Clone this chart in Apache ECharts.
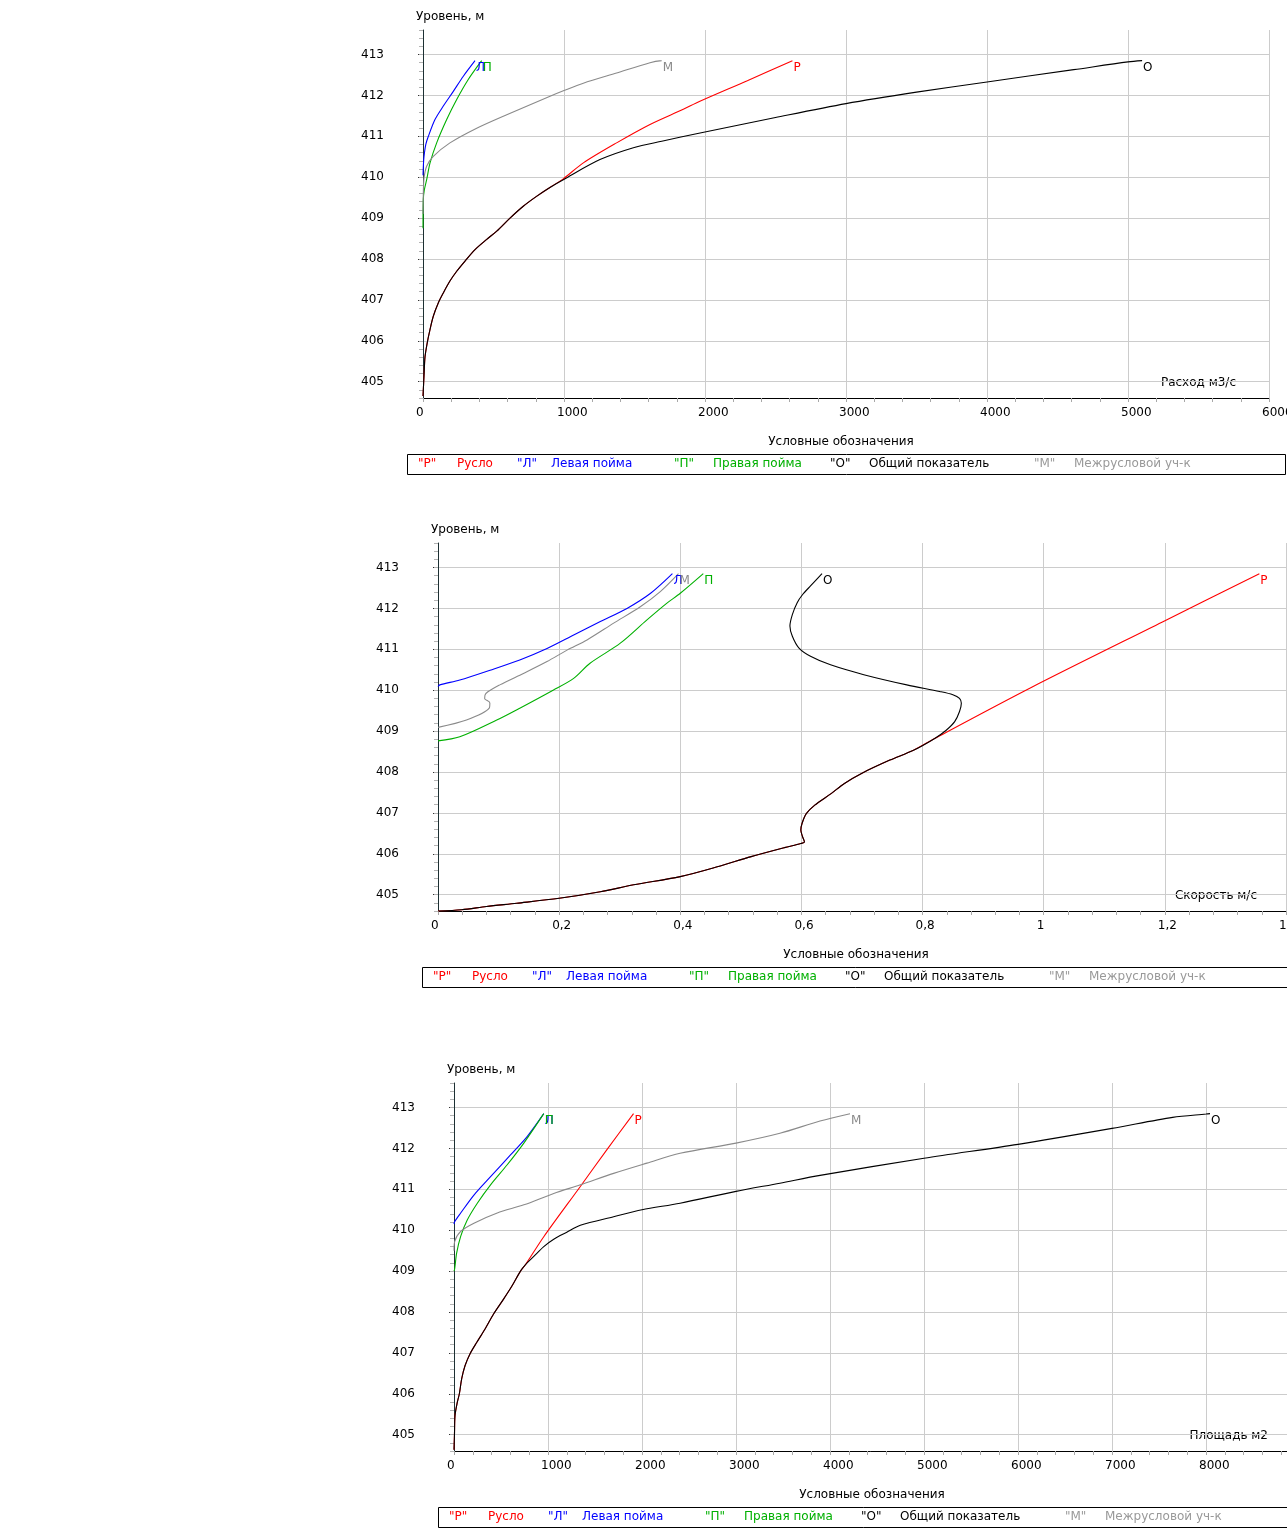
<!DOCTYPE html>
<html>
<head>
<meta charset="utf-8">
<script src="https://cdn.jsdelivr.net/npm/echarts@6/dist/echarts.min.js"></script>
<style>
  html, body { margin: 0; padding: 0; background: #fff; }
  #chart { width: 1287px; height: 1538px; }
</style>
</head>
<body>
<div id="chart"></div>
<script>
// ---- Section parts: codes, names ----
const partCodes = ['Р', 'Л', 'П', 'О', 'М'];
const partNames = ['Русло', 'Левая пойма', 'Правая пойма', 'Общий показатель', 'Межрусловой уч-к'];

// Level axis (m)
const levelMin = 404.6;
const levelMax = 413.6;
const levelTicks = [405, 406, 407, 408, 409, 410, 411, 412, 413];

// ---- Discharge, m3/s : [Q, level] ----
const qLower = [[0,404.65],[8,405.2],[14,405.6],[30,405.95],[50,406.28],[73,406.6],[109,406.93],[144,407.17],[191,407.46],[239,407.7],[298,407.95],[369,408.23],[452,408.48],[523,408.68],[617,409.0],[711,409.29],[800,409.52],[900,409.75]];
const qChannel = qLower.concat([[995,409.96],[1137,410.35],[1373,410.84],[1610,411.29],[1846,411.66],[1960,411.85],[2300,412.36],[2620,412.85]]);
const qTotal = qLower.concat([[995,409.94],[1255,410.43],[1492,410.72],[1693,410.88],[1965,411.08],[2500,411.46],[3000,411.8],[3500,412.08],[4000,412.33],[4615,412.63],[5000,412.82],[5100,412.85]]);
const qLeft = [[0,410.05],[3,410.3],[7,410.5],[20,410.8],[38,411.0],[85,411.41],[144,411.74],[215,412.1],[286,412.47],[369,412.85]];
const qRight = [[0,408.75],[2,409.45],[10,409.7],[26,409.94],[50,410.35],[97,410.84],[168,411.41],[239,411.9],[321,412.39],[416,412.85]];
const qInter = [[0,409.1],[3,409.7],[8,410.0],[26,410.27],[73,410.51],[191,410.84],[381,411.2],[594,411.53],[901,411.98],[1000,412.12],[1137,412.3],[1373,412.55],[1610,412.8],[1693,412.85]];

// ---- Velocity, m/s : [V, level] ----
const vLower = [[0,404.6],[0.039,404.63],[0.08,404.71],[0.13,404.79],[0.2,404.91],[0.268,405.07],[0.323,405.24],[0.4,405.44],[0.461,405.68],[0.517,405.93],[0.572,406.15],[0.599,406.25],[0.605,406.29],[0.602,406.41],[0.599,406.58],[0.601,406.74],[0.608,406.98],[0.622,407.19],[0.649,407.47],[0.671,407.72],[0.7,407.97],[0.746,408.29],[0.785,408.53],[0.82,408.82]];
const vChannel = vLower.concat([[0.981,410.08],[1.196,411.67],[1.356,412.85]]);
const vTotal = vLower.concat([[0.839,409.02],[0.853,409.23],[0.861,409.48],[0.864,409.68],[0.861,409.8],[0.85,409.89],[0.828,409.97],[0.774,410.13],[0.703,410.38],[0.648,410.62],[0.615,410.83],[0.596,411.03],[0.585,411.32],[0.581,411.57],[0.585,411.85],[0.593,412.14],[0.602,412.34],[0.615,412.55],[0.634,412.85]]);
const vLeft = [[0,410.09],[0.003,410.13],[0.036,410.25],[0.086,410.49],[0.135,410.74],[0.18,411.02],[0.224,411.35],[0.268,411.68],[0.312,412.0],[0.351,412.37],[0.387,412.85]];
const vRight = [[0,408.76],[0.036,408.86],[0.097,409.27],[0.135,409.56],[0.19,410.0],[0.224,410.29],[0.251,410.66],[0.301,411.15],[0.345,411.72],[0.378,412.13],[0.4,412.37],[0.438,412.85]];
const vInter = [[0,409.09],[0.047,409.27],[0.0845,409.56],[0.0856,409.69],[0.077,409.8],[0.079,409.92],[0.102,410.13],[0.141,410.41],[0.18,410.7],[0.213,410.98],[0.246,411.23],[0.29,411.64],[0.334,412.04],[0.367,412.41],[0.397,412.85]];

// ---- Flow area, m2 : [A, level] ----
const aLower = [[0,404.63],[5,405.0],[11,405.47],[36,405.8],[57,406.0],[82,406.37],[118,406.69],[171,406.98],[243,407.26],[332,407.59],[421,407.95],[529,408.32],[618,408.64],[707,409.0],[761,409.16]];
const aChannel = aLower.concat([[955,409.84],[1344,411.07],[1627,411.97],[1910,412.85]]);
const aTotal = aLower.concat([[849,409.36],[955,409.6],[1061,409.78],[1200,409.95],[1344,410.12],[1698,410.33],[2000,410.5],[2405,410.66],[3000,410.95],[3467,411.15],[3894,411.34],[5000,411.76],[6000,412.1],[7000,412.49],[7645,412.76],[8000,412.84],[8043,412.85]]);
const aLeft = [[0,410.15],[7,410.21],[71,410.42],[212,410.86],[389,411.31],[601,411.84],[778,412.29],[955,412.85]];
const aRight = [[0,409.0],[7,409.05],[28,409.44],[71,409.85],[141,410.25],[248,410.66],[389,411.11],[566,411.6],[743,412.13],[955,412.85]];
const aInter = [[0,409.5],[7,409.72],[71,409.97],[212,410.17],[460,410.42],[743,410.62],[1061,410.9],[1344,411.11],[1698,411.39],[2052,411.64],[2405,411.88],[3000,412.13],[3467,412.37],[3894,412.67],[4213,412.85]];

// ---- Styling & layout ----
const FONT = '"DejaVu Sans", Verdana, sans-serif';
const partColors = { 'Р': '#ff0000', 'Л': '#0000ff', 'П': '#00b000', 'О': '#000000', 'М': '#8a8a8a' };
const legendTextColors = { 'Р': '#ff0000', 'Л': '#0000ff', 'П': '#00b000', 'О': '#000000', 'М': '#999999' };
const drawOrder = ['Р', 'Л', 'П', 'М', 'О'];

const panels = [
  { left: 423, top: 30, width: 846, xMax: 6000, xStep: 1000, unit: 'Расход м3/с', unitRight: 1236, comma: false,
    data: { 'Р': qChannel, 'Л': qLeft, 'П': qRight, 'О': qTotal, 'М': qInter } },
  { left: 438, top: 543, width: 848, xMax: 1.4, xStep: 0.2, unit: 'Скорость м/с', unitRight: 1257, comma: true,
    data: { 'Р': vChannel, 'Л': vLeft, 'П': vRight, 'О': vTotal, 'М': vInter } },
  { left: 454, top: 1083, width: 846, xMax: 9000, xStep: 1000, unit: 'Площадь м2', unitRight: 1268, comma: false,
    data: { 'Р': aChannel, 'Л': aLeft, 'П': aRight, 'О': aTotal, 'М': aInter } }
];
const PLOT_H = 368;
const legendOffsets = [11, 50, 110, 144, 267, 306, 423, 462, 627, 667];

const grids = [], xAxes = [], yAxes = [], series = [], graphics = [];

panels.forEach((p, i) => {
  grids.push({ left: p.left, top: p.top, width: p.width, height: PLOT_H, containLabel: false, outerBoundsMode: 'none' });

  xAxes.push({
    type: 'value', gridIndex: i, min: 0, max: p.xMax, interval: p.xStep,
    axisLine: { show: true, onZero: false, lineStyle: { color: '#000', width: 1 } },
    axisTick: { show: true, length: 4, lineStyle: { color: '#a8a8a8' } },
    minorTick: { show: true, splitNumber: 5, length: 4, lineStyle: { color: '#a8a8a8' } },
    minorSplitLine: { show: false },
    splitLine: { show: true, lineStyle: { color: '#cccccc', width: 1 } },
    axisLabel: {
      color: '#000', fontSize: 12, fontFamily: FONT, margin: 9, align: 'left', padding: [0, 0, 0, -7],
      formatter: v => p.comma ? String(+v.toFixed(2)).replace('.', ',') : String(v)
    }
  });

  // level axis with labels, major ticks and horizontal grid
  yAxes.push({
    type: 'value', gridIndex: i, position: 'left', min: levelMin, max: levelMax,
    splitNumber: 9, minInterval: 1, maxInterval: 1,
    axisLine: { show: true, onZero: false, lineStyle: { color: '#1d3033', width: 1 } },
    axisTick: { show: true, length: 5, customValues: levelTicks, lineStyle: { color: '#333' } },
    splitLine: { show: true, lineStyle: { color: '#cccccc', width: 1 } },
    axisLabel: {
      color: '#000', fontSize: 12, fontFamily: FONT, margin: 39, customValues: levelTicks,
      formatter: v => Math.abs(v - Math.round(v)) < 1e-6 ? String(Math.round(v)) : ''
    }
  });

  series.push(...drawOrder.map(code => {
    const pts = p.data[code];
    return {
      type: 'line', name: code, xAxisIndex: i, yAxisIndex: i,
      data: pts, symbol: 'none', smooth: 0.3, silent: true,
      lineStyle: { color: partColors[code], width: 1.1 },
      itemStyle: { color: partColors[code] },
      // curve code written next to the curve's top end
      markPoint: {
        silent: true, symbol: 'circle', symbolSize: 0, animation: false,
        itemStyle: { color: 'rgba(0,0,0,0)' },
        label: {
          show: true, formatter: code, position: 'right', distance: 1, offset: [0, 7],
          color: partColors[code], fontSize: 12, fontFamily: FONT
        },
        data: [{ coord: pts[pts.length - 1] }]
      }
    };
  }));

  const dy = p.top - 30;
  const dx = p.left - 423;
  graphics.push(
    { type: 'text', style: { text: 'Уровень, м', x: 416 + dx, y: 17 + dy, fill: '#000', font: '12px ' + FONT, align: 'left', verticalAlign: 'middle' } },
    { type: 'text', style: { text: p.unit, x: p.unitRight, y: 383 + dy, fill: '#000', font: '12px ' + FONT, align: 'right', verticalAlign: 'middle' } },
    { type: 'text', style: { text: 'Условные обозначения', x: 841 + dx, y: 442 + dy, fill: '#000', font: '12px ' + FONT, align: 'center', verticalAlign: 'middle' } },
    { type: 'rect', shape: { x: 407.5 + dx, y: 454.5 + dy, width: 878, height: 20 }, style: { fill: 'none', stroke: '#000', lineWidth: 1 } }
  );
  partCodes.forEach((code, k) => {
    graphics.push(
      { type: 'text', style: { text: '"' + code + '"', x: 407 + dx + legendOffsets[2 * k], y: 464 + dy, fill: legendTextColors[code], font: '12px ' + FONT, align: 'left', verticalAlign: 'middle' } },
      { type: 'text', style: { text: partNames[k], x: 407 + dx + legendOffsets[2 * k + 1], y: 464 + dy, fill: legendTextColors[code], font: '12px ' + FONT, align: 'left', verticalAlign: 'middle' } }
    );
  });
});

// minor level ticks every 0.2 m
panels.forEach((p, i) => {
  yAxes.push({
    type: 'value', gridIndex: i, position: 'left', min: levelMin, max: levelMax, interval: 0.2,
    axisLine: { show: false }, axisLabel: { show: false }, splitLine: { show: false },
    axisTick: { show: true, length: 4, lineStyle: { color: '#b4b4b4' } }
  });
});

const chart = echarts.init(document.getElementById('chart'), null, { renderer: 'canvas' });
chart.setOption({
  animation: false,
  backgroundColor: '#fff',
  textStyle: { fontFamily: FONT },
  grid: grids,
  xAxis: xAxes,
  yAxis: yAxes,
  series: series,
  graphic: graphics
});
</script>
</body>
</html>
